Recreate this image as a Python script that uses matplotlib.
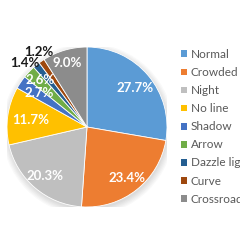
import matplotlib.pyplot as plt
from matplotlib.patches import Patch, Circle

categories = ['Normal', 'Crowded', 'Night', 'No line', 'Shadow', 'Arrow',
              'Dazzle light', 'Curve', 'Crossroad']
shares = [27.7, 23.4, 20.3, 11.7, 2.7, 2.6, 1.4, 1.2, 9.0]
colors = ['#5B9BD5', '#ED7D31', '#BFBFBF', '#FFC000', '#4472C4', '#70AD47',
          '#255E91', '#9E480E', '#8C8C8C']

# label spots (in pie radius units) picked to match the excel "best fit" layout
label_xy = [(0.6, 0.49), (0.506, -0.64), (-0.53, -0.61), (-0.706, 0.09),
            (-0.594, 0.425), (-0.588, 0.59), (-0.78, 0.8), (-0.6, 0.94),
            (-0.244, 0.8)]
label_white = [True, True, True, True, True, True, False, False, True]

plt.rcParams['font.family'] = ['Lato', 'DejaVu Sans']

fig = plt.figure(figsize=(2.4, 2.4), dpi=100)
ax = fig.add_axes([7 / 240, 33 / 240, 160 / 240, 160 / 240])

# soft shadow under the pie
for i in range(6):
    ax.add_patch(Circle((0.01, -0.03), 1.0 + 0.015 * i, color='black',
                        alpha=0.025, lw=0, zorder=0))

wedges, _ = ax.pie(shares, colors=colors, startangle=90, counterclock=False,
                   radius=1.0, wedgeprops=dict(edgecolor='white', linewidth=0.6))
for w in wedges:
    w.set_zorder(2)
ax.set_xlim(-1, 1)
ax.set_ylim(-1, 1)
ax.set_aspect('equal')
ax.axis('off')

for val, (x, y), white in zip(shares, label_xy, label_white):
    ax.text(x, y, f'{val:.1f}%', ha='center', va='center', fontsize=9.5,
            fontweight='bold', color='white' if white else '#1a1a1a', zorder=3)

handles = [Patch(facecolor=c, edgecolor='none') for c in colors]
fig.legend(handles, categories, loc='upper left', bbox_to_anchor=(181 / 240, 1 - 49 / 240),
           frameon=False, fontsize=8.5, handlelength=0.5, handleheight=0.5,
           handletextpad=0.32, labelspacing=0.6, labelcolor='#595959',
           borderaxespad=0, borderpad=0)

fig.savefig('out.png', dpi=100)
